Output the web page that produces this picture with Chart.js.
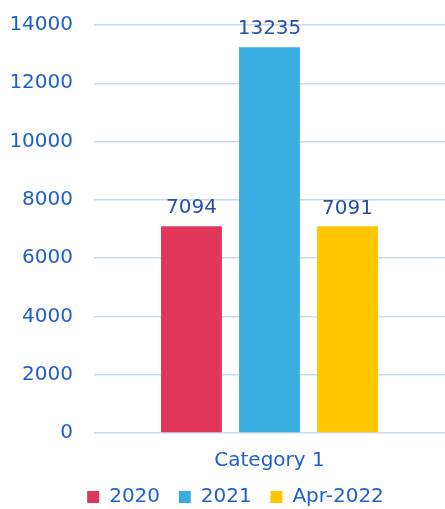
<!DOCTYPE html>
<html>
<head>
<meta charset="utf-8">
<script src="https://cdn.jsdelivr.net/npm/chart.js@4/dist/chart.umd.min.js"></script>
<style>
  html, body { margin: 0; padding: 0; background: #fff; }
  #wrap { width: 445px; height: 509px; }
</style>
</head>
<body>
<div id="wrap"><canvas id="mycanvas" width="445" height="509"></canvas></div>
<script>
var categories = ['Category 1'];
var seriesNames = ['2020', '2021', 'Apr-2022'];
var values2020 = [7094];
var values2021 = [13235];
var valuesApr2022 = [7091];
var yTicks = [0, 2000, 4000, 6000, 8000, 10000, 12000, 14000];

var colors = ['#E0365A', '#3AADE0', '#FFC600'];
var tickColor = '#1F5FCC';
var labelColor = '#2450A8';
var fontFamily = 'Verdana, "DejaVu Sans", sans-serif';

// value labels above each bar, legend nudged right like the original
var barValues = {
	id: 'barValues',
	afterLayout: function(chart) {
		if (chart.legend) chart.legend.left += 26;
	},
	afterDatasetsDraw: function(chart) {
		var ctx = chart.ctx;
		ctx.save();
		ctx.font = '20px ' + fontFamily;
		ctx.fillStyle = labelColor;
		ctx.textAlign = 'center';
		ctx.textBaseline = 'bottom';
		chart.data.datasets.forEach(function(ds, i) {
			var meta = chart.getDatasetMeta(i);
			meta.data.forEach(function(bar, j) {
				ctx.fillText(String(ds.data[j]), bar.x, bar.y - 8);
			});
		});
		ctx.restore();
	}
};

var chartdata = {
	labels: categories,
	datasets: [
		{ label: seriesNames[0], data: values2020, backgroundColor: colors[0] },
		{ label: seriesNames[1], data: values2021, backgroundColor: colors[1] },
		{ label: seriesNames[2], data: valuesApr2022, backgroundColor: colors[2] }
	]
};

var ctx = document.getElementById('mycanvas');
var barGraph = new Chart(ctx, {
	type: 'bar',
	data: chartdata,
	plugins: [barValues],
	options: {
		responsive: false,
		animation: false,
		devicePixelRatio: 1,
		categoryPercentage: 0.667,
		barPercentage: 0.78,
		layout: { padding: { top: 0, right: 0, left: 0, bottom: -8 } },
		plugins: {
			legend: {
				position: 'bottom',
				labels: {
					color: tickColor,
					font: { size: 20, family: fontFamily },
					boxWidth: 12,
					boxHeight: 12,
					padding: 6,
					generateLabels: function(chart) {
						var items = Chart.defaults.plugins.legend.labels.generateLabels(chart);
						items.forEach(function(it, i) {
							if (i < items.length - 1) it.text = it.text + '  ';
						});
						return items;
					}
				}
			},
			tooltip: { enabled: false }
		},
		scales: {
			x: {
				grid: { display: false },
				border: { display: false },
				ticks: { color: tickColor, font: { size: 20, family: fontFamily }, padding: 8 }
			},
			y: {
				min: 0,
				max: yTicks[yTicks.length - 1],
				afterBuildTicks: function(axis) {
					axis.ticks = yTicks.map(function(v) { return { value: v }; });
				},
				afterFit: function(axis) {
					axis.width = 94;
					axis.paddingTop = 25;
				},
				grid: { color: '#C9D9F0', lineWidth: 1.5, drawTicks: false },
				border: { display: false },
				ticks: {
					color: tickColor,
					font: { size: 20, family: fontFamily },
					padding: 21,
					callback: function(v) { return String(v); }
				}
			}
		}
	}
});
</script>
</body>
</html>
